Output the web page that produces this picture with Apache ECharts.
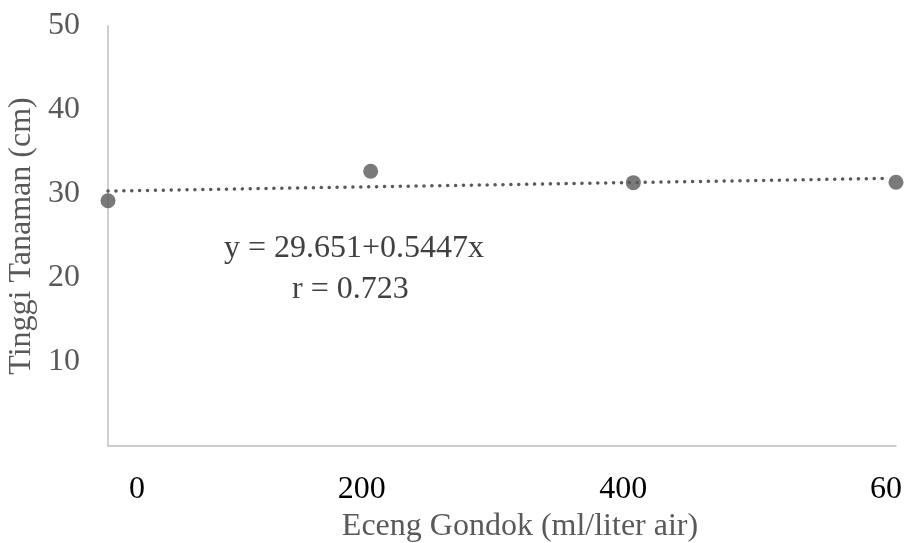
<!DOCTYPE html>
<html>
<head>
<meta charset="utf-8">
<script src="https://cdn.jsdelivr.net/npm/echarts@6/dist/echarts.min.js"></script>
<style>html,body{margin:0;padding:0;background:#fff}#c{width:911px;height:543px}</style>
</head>
<body>
<div id="c"></div>
<script>
// Data
var xValues = [0, 200, 400, 600];
var yValues = [29.2, 32.7, 31.35, 31.4];
var xTickLabels = ['0', '200', '400', '60'];
var trendX = [0, 590];
var trendY = [30.35, 31.85];
var equationText = 'y = 29.651+0.5447x';
var rText = 'r = 0.723';

var FONT = 'Liberation Serif';
var FS = 32;
var chart = echarts.init(document.getElementById('c'));
var labelRich = {
  a: {fontFamily: FONT, fontSize: FS, color: '#000', padding: [0, 0, 0, 58]},
  b: {fontFamily: FONT, fontSize: FS, color: '#000', padding: [0, 18, 0, 0]},
  c: {fontFamily: FONT, fontSize: FS, color: '#000', padding: [0, 20, 0, 0]},
  d: {fontFamily: FONT, fontSize: FS, color: '#000', padding: [0, 20, 0, 0]}
};
var richKeys = ['a', 'b', 'c', 'd'];
chart.setOption({
  animation: false,
  grid: {left: 108, right: 15, top: 26, bottom: 97, containLabel: false, outerBoundsMode: 'none'},
  xAxis: {
    type: 'value', min: 0, max: 600, interval: 200,
    name: 'Eceng Gondok (ml/liter air)', nameLocation: 'middle', nameGap: 64,
    nameTextStyle: {fontFamily: FONT, fontSize: FS, color: '#595959', padding: [0, 0, 0, 36]},
    axisLine: {show: true, lineStyle: {color: '#bfbfbf', width: 1.5}},
    axisTick: {show: false},
    splitLine: {show: false},
    axisLabel: {
      margin: 28, hideOverlap: false,
      formatter: function (v) {
        var i = xValues.indexOf(v);
        if (i < 0) return '';
        return '{' + richKeys[i] + '|' + xTickLabels[i] + '}';
      },
      rich: labelRich
    }
  },
  yAxis: {
    type: 'value', min: 0, max: 50, interval: 10,
    name: 'Tinggi Tanaman (cm)', nameLocation: 'middle', nameGap: 62,
    nameTextStyle: {fontFamily: FONT, fontSize: FS, color: '#595959'},
    axisLine: {show: true, lineStyle: {color: '#bfbfbf', width: 1.5}},
    axisTick: {show: false},
    splitLine: {show: false},
    axisLabel: {
      margin: 28, fontFamily: FONT, fontSize: FS, color: '#595959',
      formatter: function (v) { return v === 0 ? '' : String(v); }
    }
  },
  series: [
    {
      type: 'line',
      data: trendX.map(function (x, i) { return [x, trendY[i]]; }),
      symbol: 'none',
      lineStyle: {color: '#595959', width: 3.5, type: [0.1, 7.8], cap: 'round'},
      z: 1
    },
    {
      type: 'scatter',
      data: xValues.map(function (x, i) { return [x, yValues[i]]; }),
      symbol: 'circle', symbolSize: 15,
      itemStyle: {color: '#595959'},
      z: 2
    }
  ],
  graphic: [
    {type: 'text', left: 224, top: 233, style: {text: equationText, font: FS + 'px "Liberation Serif"', fill: '#404040'}},
    {type: 'text', left: 292, top: 274, style: {text: rText, font: FS + 'px "Liberation Serif"', fill: '#404040'}}
  ]
});
</script>
</body>
</html>
